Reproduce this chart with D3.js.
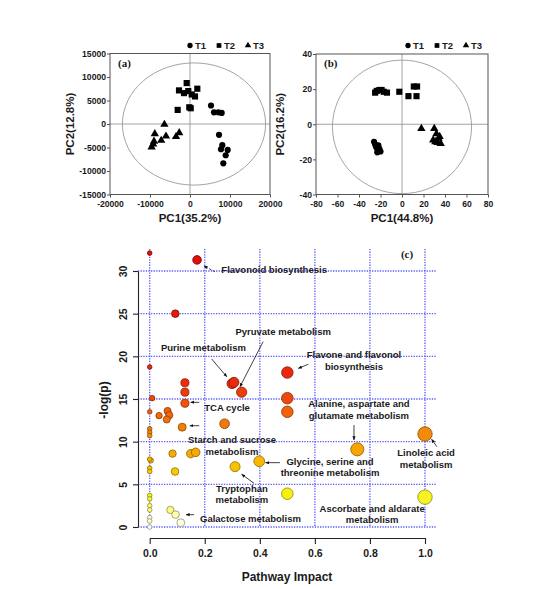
<!DOCTYPE html>
<html>
<head>
<meta charset="utf-8">
<script src="https://cdn.jsdelivr.net/npm/d3@7"></script>
<style>
  body { margin: 0; background: #fff; }
  text { font-family: "Liberation Sans", Arial, sans-serif; font-weight: bold; fill: #1a1a1a; }
</style>
</head>
<body>
<div id="chart"></div>
<script>
var svgWidth = 554;
var svgHeight = 589;

// ---- data: PCA scores, panel (a)
var aT1 = [[5250, 3930], [6000, 2490], [7080, 2490], [7920, 2360], [7250, -2300],
           [8080, -4500], [7750, -5370], [9420, -5510], [8920, -6650], [8330, -8370]];
var aT2 = [[-2750, 7150], [-830, 8710], [-1500, 6570], [-430, 7000], [430, 6290],
           [1250, 5860], [1830, 7510], [-3080, 3000], [-180, 3560], [180, 3350]];
var aT3 = [[-6400, -100], [-8800, -2100], [-6000, -2600], [-2700, -1900], [-3500, -2700],
           [-7200, -3500], [-9000, -3700], [-9200, -4300], [-9600, -4900]];

// ---- data: PCA scores, panel (b)
var bT1 = [[-26, -10], [-25, -11.5], [-24, -13], [-23, -14], [-22, -15], [-21, -14],
           [-20, -15.5], [-23, -16], [-24, -12.5], [-22, -12]];
var bT2 = [[-25, 18], [-23.5, 19], [-21, 19.5], [-19, 19.5], [-17, 18.5], [-14, 18],
           [-2.5, 18.5], [6, 16], [13.5, 16], [11, 21.5], [14, 21.5]];
var bT3 = [[18, -2.5], [30, -2.5], [32, -5.5], [35, -7], [34, -8], [29, -9],
           [31, -10], [33, -10.5], [36, -11]];

var aXTicks = [-20000, -10000, 0, 10000, 20000];
var aYTicks = [-15000, -10000, -5000, 0, 5000, 10000, 15000];
var bXTicks = [-80, -60, -40, -20, 0, 20, 40, 60, 80];
var bYTicks = [-40, -20, 0, 20, 40];

// ---- data: pathway analysis, panel (c)
var impact = [0.000, 0.172, 0.093, 0.000, 0.128, 0.128, 0.128, 0.299, 0.306, 0.334,
              0.500, 0.500, 0.500, 0.009, 0.000, 0.034, 0.065, 0.071, 0.062, 0.118,
              0.272, 0.000, 0.000, 0.000, 0.083, 0.149, 0.167, 0.004, 0.000, 0.000,
              0.000, 0.092, 0.310, 0.398, 0.500, 0.000, 0.000, 0.000, 0.000, 0.000,
              0.000, 0.000, 0.075, 0.094, 0.113, 0.754, 1.000, 1.000];
var logP = [32.1, 31.3, 25.0, 18.75, 16.9, 15.8, 14.5, 16.8, 16.95, 15.8,
            18.1, 15.1, 13.5, 15.1, 13.5, 13.05, 13.6, 13.1, 12.6, 11.7,
            12.1, 11.5, 11.1, 10.7, 8.6, 8.6, 8.75, 7.8, 7.95, 6.9,
            6.5, 6.5, 7.07, 7.7, 3.9, 3.7, 3.3, 2.5, 2.0, 1.1,
            0.7, 0.0, 2.0, 1.45, 0.5, 9.1, 10.9, 3.5];
var cXTicks = [0, 0.2, 0.4, 0.6, 0.8, 1.0];
var cYTicks = [0, 5, 10, 15, 20, 25, 30];

var pathwayNames = [
  ["Flavonoid biosynthesis"],
  ["Pyruvate metabolism"],
  ["Purine metabolism"],
  ["Flavone and flavonol", "biosynthesis"],
  ["TCA cycle"],
  ["Starch and sucrose", "metabolism"],
  ["Tryptophan", "metabolism"],
  ["Glycine, serine and", "threonine metabolism"],
  ["Alanine, aspartate and", "glutamate metabolism"],
  ["Linoleic acid", "metabolism"],
  ["Ascorbate and aldarate", "metabolism"],
  ["Galactose metabolism"]
];

var svg = d3.select("#chart")
  .append("svg")
  .attr("width", svgWidth)
  .attr("height", svgHeight);

svg.append("rect").attr("width", svgWidth).attr("height", svgHeight).attr("fill", "#fff");

var hyphen = d => String(d);

function drawPCA(p) {
  var x = d3.scaleLinear().domain(p.xDomain).range(p.xRange);
  var y = d3.scaleLinear().domain(p.yDomain).range(p.yRange);
  var g = svg.append("g");

  // zero lines + confidence ellipse
  g.append("line").attr("x1", x(0)).attr("x2", x(0))
    .attr("y1", p.yRange[1]).attr("y2", p.yRange[0])
    .attr("stroke", "#8a8a8a").attr("stroke-width", 0.8);
  g.append("line").attr("x1", p.xRange[0]).attr("x2", p.xRange[1])
    .attr("y1", y(0)).attr("y2", y(0))
    .attr("stroke", "#8a8a8a").attr("stroke-width", 0.8);
  g.append("ellipse")
    .attr("cx", x(p.ell[0])).attr("cy", y(p.ell[1]))
    .attr("rx", x(p.ell[0] + p.ell[2]) - x(p.ell[0]))
    .attr("ry", y(p.ell[1]) - y(p.ell[1] + p.ell[3]))
    .attr("fill", "none").attr("stroke", "#9a9a9a").attr("stroke-width", 0.9);

  // frame
  g.append("rect")
    .attr("x", p.xRange[0]).attr("y", p.yRange[1])
    .attr("width", p.xRange[1] - p.xRange[0])
    .attr("height", p.yRange[0] - p.yRange[1])
    .attr("fill", "none").attr("stroke", "#555").attr("stroke-width", 1);

  var xAxis = g.append("g")
    .attr("transform", `translate(0, ${p.yRange[0]})`)
    .call(d3.axisBottom(x).tickValues(p.xTicks).tickFormat(hyphen).tickSize(3).tickSizeOuter(0));
  var yAxis = g.append("g")
    .attr("transform", `translate(${p.xRange[0]}, 0)`)
    .call(d3.axisLeft(y).tickValues(p.yTicks).tickFormat(hyphen).tickSize(3).tickSizeOuter(0));
  [xAxis, yAxis].forEach(function(a) {
    a.select(".domain").remove();
    a.selectAll("line").attr("stroke", "#555");
    a.selectAll("text").style("font-size", "8.6px").attr("fill", "#1a1a1a");
  });
  xAxis.selectAll("text").attr("y", 6);
  yAxis.selectAll("text").attr("x", -4);

  var shapes = [d3.symbolCircle, d3.symbolSquare, d3.symbolTriangle];
  var sizes = [30, 38, 30];
  p.groups.forEach(function(pts, i) {
    g.selectAll(null)
      .data(pts)
      .enter()
      .append("path")
      .attr("d", d3.symbol().type(shapes[i]).size(sizes[i]))
      .attr("transform", d => `translate(${x(d[0])}, ${y(d[1])})`)
      .attr("fill", "#000");
  });

  // legend
  ["T1", "T2", "T3"].forEach(function(name, i) {
    var lx = p.legendX + i * 29;
    g.append("path")
      .attr("d", d3.symbol().type(shapes[i]).size(i === 2 ? 18 : 22))
      .attr("transform", `translate(${lx}, 45.5)`)
      .attr("fill", "#000");
    g.append("text").attr("x", lx + 5).attr("y", 49)
      .style("font-size", "9.5px").text(name);
  });

  g.append("text")
    .attr("x", p.xRange[0] + 8).attr("y", 67)
    .style("font-family", "'Liberation Serif', 'Times New Roman', serif")
    .style("font-size", "11px")
    .text(p.tag);

  g.append("text")
    .attr("transform", `translate(${(p.xRange[0] + p.xRange[1]) / 2}, 221.5)`)
    .attr("text-anchor", "middle")
    .style("font-size", "11.5px")
    .text(p.xLabel);
  g.append("text")
    .attr("transform", `translate(${p.yLabelX}, ${(p.yRange[0] + p.yRange[1]) / 2}) rotate(-90)`)
    .attr("text-anchor", "middle")
    .style("font-size", "11.5px")
    .text(p.yLabel);
}

drawPCA({
  xDomain: [-20000, 20000], xRange: [110, 270],
  yDomain: [-15000, 15000], yRange: [194.5, 53.5],
  xTicks: aXTicks, yTicks: aYTicks,
  ell: [1000, 0, 17900, 13000],
  groups: [aT1, aT2, aT3],
  legendX: 190, tag: "(a)",
  xLabel: "PC1(35.2%)", yLabel: "PC2(12.8%)", yLabelX: 74
});

drawPCA({
  xDomain: [-80, 80], xRange: [316, 488],
  yDomain: [-40, 40], yRange: [194.5, 54],
  xTicks: bXTicks, yTicks: bYTicks,
  ell: [0, -1.5, 64.7, 38],
  groups: [bT1, bT2, bT3],
  legendX: 408, tag: "(b)",
  xLabel: "PC1(44.8%)", yLabel: "PC2(16.2%)", yLabelX: 284
});

// ---------------- panel (c)
var xC = d3.scaleLinear().domain([0, 1]).range([149.7, 425]);
var yC = d3.scaleLinear().domain([0, 30]).range([527, 271]);
var rC = d3.scaleSqrt().domain([0, 1]).range([2.3, 7.2]);
var colorC = d3.scaleLinear()
  .domain([0, 1.5, 4, 8, 11, 14, 17, 33])
  .range(["#ffffff", "#ffffa8", "#f5f000", "#f7b400", "#f38a08", "#f05a0c", "#ec2a0c", "#e00a0a"]);

var gc = svg.append("g");

// dotted blue grid
gc.selectAll(null).data(cYTicks).enter().append("line")
  .attr("x1", 138).attr("x2", 437)
  .attr("y1", d => yC(d)).attr("y2", d => yC(d))
  .attr("stroke", "#5a5aff").attr("stroke-width", 1.3).attr("stroke-dasharray", "1.3,1.3");
gc.selectAll(null).data(cXTicks).enter().append("line")
  .attr("x1", d => xC(d)).attr("x2", d => xC(d))
  .attr("y1", 249).attr("y2", yC(0))
  .attr("stroke", "#5a5aff").attr("stroke-width", 1.3).attr("stroke-dasharray", "1.3,1.3");

var cxAxis = gc.append("g")
  .attr("transform", "translate(0, 538)")
  .call(d3.axisBottom(xC).tickValues(cXTicks).tickFormat(d3.format(".1f")).tickSize(6).tickSizeOuter(0));
var cyAxis = gc.append("g")
  .attr("transform", "translate(138, 0)")
  .call(d3.axisLeft(yC).tickValues(cYTicks).tickSize(5).tickSizeOuter(0));
[cxAxis, cyAxis].forEach(function(a) {
  a.select(".domain").attr("stroke", "#222").attr("stroke-width", 1.1);
  a.selectAll("line").attr("stroke", "#222").attr("stroke-width", 1.1);
  a.selectAll("text").style("font-size", "10.5px").attr("fill", "#1a1a1a");
});
cxAxis.selectAll("text").attr("y", 12);
cyAxis.selectAll("text")
  .attr("x", 0).attr("dy", 0)
  .attr("text-anchor", "middle")
  .attr("transform", "translate(-11.5, 0) rotate(-90)");

gc.append("text")
  .attr("x", 287).attr("y", 581)
  .attr("text-anchor", "middle")
  .style("font-size", "12px")
  .text("Pathway Impact");
gc.append("text")
  .attr("transform", "translate(108, 400) rotate(-90)")
  .attr("text-anchor", "middle")
  .style("font-size", "12px")
  .text("-log(p)");
gc.append("text")
  .attr("x", 407).attr("y", 258)
  .attr("text-anchor", "middle")
  .style("font-family", "'Liberation Serif', 'Times New Roman', serif")
  .style("font-size", "11px")
  .text("(c)");

var points = impact.map((v, i) => ({ impact: v, logp: logP[i] }));
gc.selectAll("circle")
  .data(points)
  .enter()
  .append("circle")
  .attr("cx", d => xC(d.impact))
  .attr("cy", d => yC(d.logp))
  .attr("r", d => rC(d.impact))
  .attr("fill", d => colorC(d.logp))
  .attr("stroke", d => d3.color(colorC(d.logp)).darker(1.6))
  .attr("stroke-width", 0.8);

// annotation layout in data units: label centre/baseline, arrow start, arrow end
var notes = [
  { at: [0.452, 29.77], from: [0.237, 29.92], to: [0.197, 30.59], dash: true },
  { at: [0.485, 22.5], from: [0.412, 21.72], to: [0.328, 16.44] },
  { at: [0.195, 20.63], from: [0.225, 19.69], to: [0.280, 17.61] },
  { at: [0.742, 19.77], from: [0.576, 19.07], to: [0.540, 18.60] },
  { at: [0.281, 13.59], from: [0.180, 14.61], to: [0.149, 14.61] },
  { at: [0.299, 9.81], from: [0.180, 11.87], to: [0.146, 11.87] },
  { at: [0.335, 4.14], from: [0.379, 5.12], to: [0.334, 6.18] },
  { at: [0.655, 7.27], from: [0.473, 7.54], to: [0.421, 7.54] },
  { at: [0.760, 14.03], from: [0.742, 11.95], to: [0.742, 10.20] },
  { at: [1.004, 8.32], from: [1.043, 9.41], to: [1.024, 10.28] },
  { at: [0.808, 1.79] },
  { at: [0.366, 0.62], from: [0.161, 1.44], to: [0.132, 1.44] }
];

svg.append("defs").append("marker")
  .attr("id", "head")
  .attr("viewBox", "0 0 10 10")
  .attr("refX", 9).attr("refY", 5)
  .attr("markerWidth", 5).attr("markerHeight", 5)
  .attr("orient", "auto")
  .append("path").attr("d", "M0,1 L10,5 L0,9 Z").attr("fill", "#111");

notes.forEach(function(n, i) {
  var t = gc.append("text")
    .attr("text-anchor", "middle")
    .style("font-size", "9.5px");
  pathwayNames[i].forEach(function(line, k) {
    t.append("tspan")
      .attr("x", xC(n.at[0]))
      .attr("y", yC(n.at[1]) + k * 11.5)
      .text(line);
  });
  if (n.from) {
    gc.append("line")
      .attr("x1", xC(n.from[0])).attr("y1", yC(n.from[1]))
      .attr("x2", xC(n.to[0])).attr("y2", yC(n.to[1]))
      .attr("stroke", "#111").attr("stroke-width", 0.8)
      .attr("stroke-dasharray", n.dash ? "2.5,1.5" : null)
      .attr("marker-end", "url(#head)");
  }
});
</script>
</body>
</html>
